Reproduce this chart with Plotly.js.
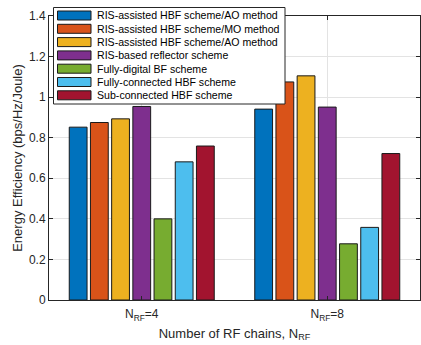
<!DOCTYPE html>
<html>
<head>
<meta charset="utf-8">
<script src="https://cdn.plot.ly/plotly-3.0.1.min.js"></script>
<style>
  html, body { margin: 0; padding: 0; background: #fff; }
  #chart { width: 421px; height: 345px; }
</style>
</head>
<body>
<div id="chart"></div>
<script>
// Energy efficiency of each beamforming scheme for two RF-chain counts
const categories = ['N<sub>RF</sub>=4', 'N<sub>RF</sub>=8'];
const schemes = [
  'RIS-assisted HBF scheme/AO method',
  'RIS-assisted HBF scheme/MO method',
  'RIS-assisted HBF scheme/AO method',
  'RIS-based reflector scheme',
  'Fully-digital BF scheme',
  'Fully-connected HBF scheme',
  'Sub-connected HBF scheme'
];
const risAO1   = [0.852, 0.941];
const risMO    = [0.875, 1.075];
const risAO2   = [0.893, 1.105];
const reflector = [0.954, 0.951];
const fullyDigital = [0.400, 0.277];
const fullyConnected = [0.681, 0.358];
const subConnected = [0.759, 0.722];
const seriesValues = [risAO1, risMO, risAO2, reflector, fullyDigital, fullyConnected, subConnected];
const colors = ['#0072BD', '#D95319', '#EDB120', '#7E2F8E', '#77AC30', '#4DBEEE', '#A2142F'];
const yTicks = [0, 0.2, 0.4, 0.6, 0.8, 1, 1.2, 1.4];
const yTickText = ['0', '0.2', '0.4', '0.6', '0.8', '1', '1.2', '1.4'];

const FONT = 'Liberation Sans, Arial, Helvetica, sans-serif';
const AXIS = '#262626';

const traces = seriesValues.map((vals, i) => ({
  type: 'bar',
  name: schemes[i],
  x: categories,
  y: vals,
  marker: { color: colors[i], line: { color: '#1a1a1a', width: 1 } },
  showlegend: false,
  hoverinfo: 'y'
}));

// Boxed legend in the upper left, drawn with shapes + text
const shapes = [];
const annotations = [];
const W = 421, H = 345;
const ml = 49, mr = 1, mt = 16, mb = 45;
const pw = W - ml - mr, ph = H - mt - mb;
const px = (x) => (x - ml) / pw;
const py = (y) => 1 - (y - mt) / ph;

shapes.push({
  type: 'rect', xref: 'paper', yref: 'paper',
  x0: px(53.5), x1: px(285), y0: py(104), y1: py(7.5),
  fillcolor: '#ffffff', line: { color: AXIS, width: 1 }, layer: 'above'
});
schemes.forEach((name, i) => {
  const top = 11 + i * 13.3;
  shapes.push({
    type: 'rect', xref: 'paper', yref: 'paper',
    x0: px(57.5), x1: px(91), y0: py(top + 9), y1: py(top),
    fillcolor: colors[i], line: { color: '#1a1a1a', width: 1 }, layer: 'above'
  });
  annotations.push({
    xref: 'paper', yref: 'paper', x: px(94.5), y: py(top + 4.5),
    xanchor: 'left', yanchor: 'middle', showarrow: false,
    text: name, font: { family: FONT, size: 10.6, color: '#000' }
  });
});

const layout = {
  width: W, height: H,
  margin: { l: ml, r: mr, t: mt, b: mb, pad: 0 },
  paper_bgcolor: '#fff', plot_bgcolor: '#fff',
  font: { family: FONT, size: 12, color: AXIS },
  barmode: 'group',
  bargap: 0.2,
  bargroupgap: 0.16,
  showlegend: false,
  xaxis: {
    type: 'category',
    range: [-0.5, 1.5],
    showgrid: true, gridcolor: '#e3e3e3', gridwidth: 1,
    showline: true, linecolor: AXIS, linewidth: 1, mirror: 'ticks',
    ticks: 'inside', ticklen: 4, tickcolor: AXIS,
    ticklabelstandoff: 3,
    tickfont: { family: FONT, size: 12, color: AXIS },
    title: { text: 'Number of RF chains, N<sub>RF</sub>', font: { family: FONT, size: 13, color: AXIS }, standoff: 6 },
    zeroline: false, fixedrange: true
  },
  yaxis: {
    range: [0, 1.4],
    tickvals: yTicks, ticktext: yTickText,
    showgrid: true, gridcolor: '#e3e3e3', gridwidth: 1,
    showline: true, linecolor: AXIS, linewidth: 1, mirror: 'ticks',
    ticks: 'inside', ticklen: 4, tickcolor: AXIS,
    tickfont: { family: FONT, size: 12, color: AXIS },
    title: { text: 'Energy Efficiency (bps/Hz/Joule)', font: { family: FONT, size: 13, color: AXIS }, standoff: 3 },
    zeroline: false, fixedrange: true
  },
  shapes: shapes,
  annotations: annotations
};

Plotly.newPlot('chart', traces, layout, { displayModeBar: false, staticPlot: true });
</script>
</body>
</html>
